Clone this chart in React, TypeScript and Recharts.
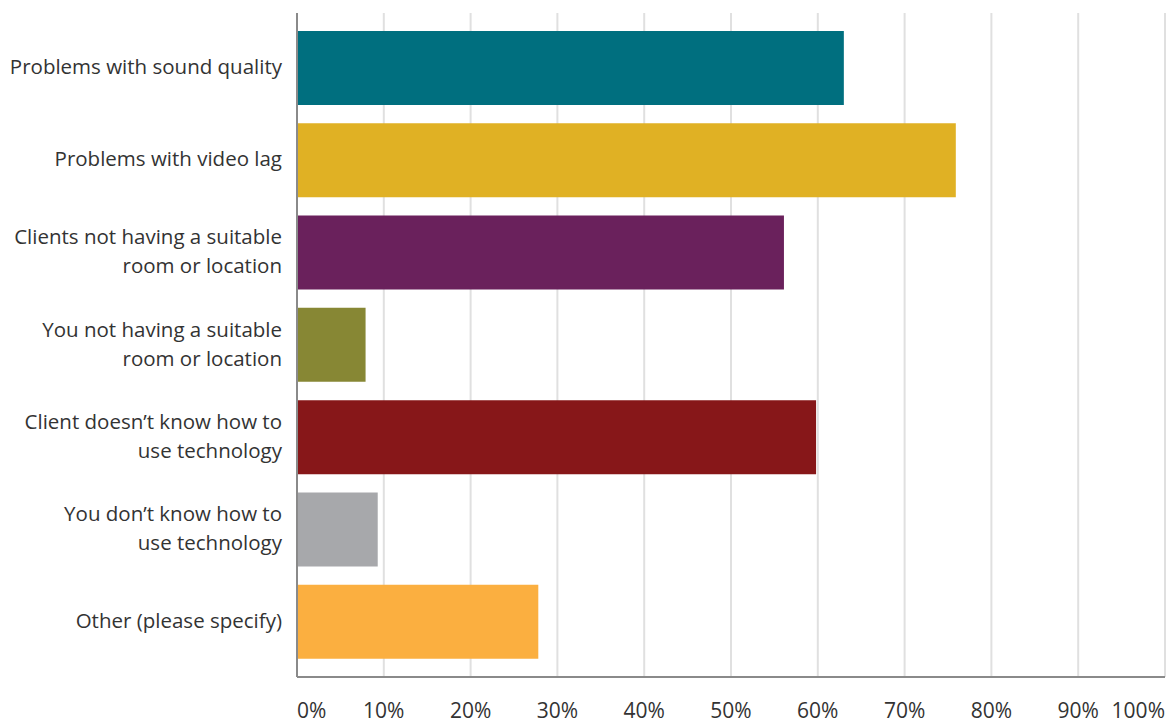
import { BarChart, Bar, XAxis, YAxis, CartesianGrid, Cell } from 'recharts'

const categories = [
  'Problems with sound quality',
  'Problems with video lag',
  'Clients not having a suitable\nroom or location',
  'You not having a suitable\nroom or location',
  'Client doesn\u2019t know how to\nuse technology',
  'You don\u2019t know how to\nuse technology',
  'Other (please specify)',
]

const percents = [63, 75.9, 56.1, 7.9, 59.8, 9.3, 27.8]

const barColors = ['#006f7f', '#e0b124', '#6a215c', '#878734', '#871719', '#a7a8ab', '#fbaf40']

const xTicks = [0, 10, 20, 30, 40, 50, 60, 70, 80, 90, 100]

const data = categories.map((name, i) => ({ name, value: percents[i] }))

const FONT = '"Open Sans", sans-serif'

function CategoryTick({ x, y, payload }: any) {
  const lines = String(payload.value).split('\n')
  return (
    <text x={x - 7} y={y} textAnchor="end" fill="#333" fontSize={20.5} fontFamily={FONT}>
      {lines.map((line, i) => (
        <tspan key={i} x={x - 7} y={y + 6 + (i - (lines.length - 1) / 2) * 29}>
          {line}
        </tspan>
      ))}
    </text>
  )
}

function PercentTick({ x, y, payload }: any) {
  const v = payload.value
  const anchor = v === 0 ? 'start' : v === 100 ? 'end' : 'middle'
  return (
    <text x={x} y={y + 33} textAnchor={anchor} fill="#333" fontSize={21} fontFamily={FONT}>
      {v}%
    </text>
  )
}

export default function App() {
  return (
    <div style={{ position: 'absolute', left: 0, top: 0, width: 1174, height: 724, background: '#fff' }}>
      <BarChart
        width={1174}
        height={724}
        data={data}
        layout="vertical"
        margin={{ top: 13, right: 9, bottom: 0, left: 0 }}
      >
        <CartesianGrid horizontal={false} stroke="#e0e0e0" strokeWidth={2} />
        <XAxis
          type="number"
          domain={[0, 100]}
          ticks={xTicks}
          interval={0}
          height={47}
          tickLine={false}
          axisLine={{ stroke: '#8a8a8a', strokeWidth: 2 }}
          tick={<PercentTick />}
        />
        <YAxis
          type="category"
          dataKey="name"
          width={297}
          tickLine={false}
          axisLine={{ stroke: '#8a8a8a', strokeWidth: 2 }}
          padding={{ top: 9, bottom: 9 }}
          tick={<CategoryTick />}
          interval={0}
        />
        <Bar dataKey="value" barSize={74} isAnimationActive={false}>
          {data.map((d, i) => (
            <Cell key={d.name} fill={barColors[i]} />
          ))}
        </Bar>
      </BarChart>
    </div>
  )
}
